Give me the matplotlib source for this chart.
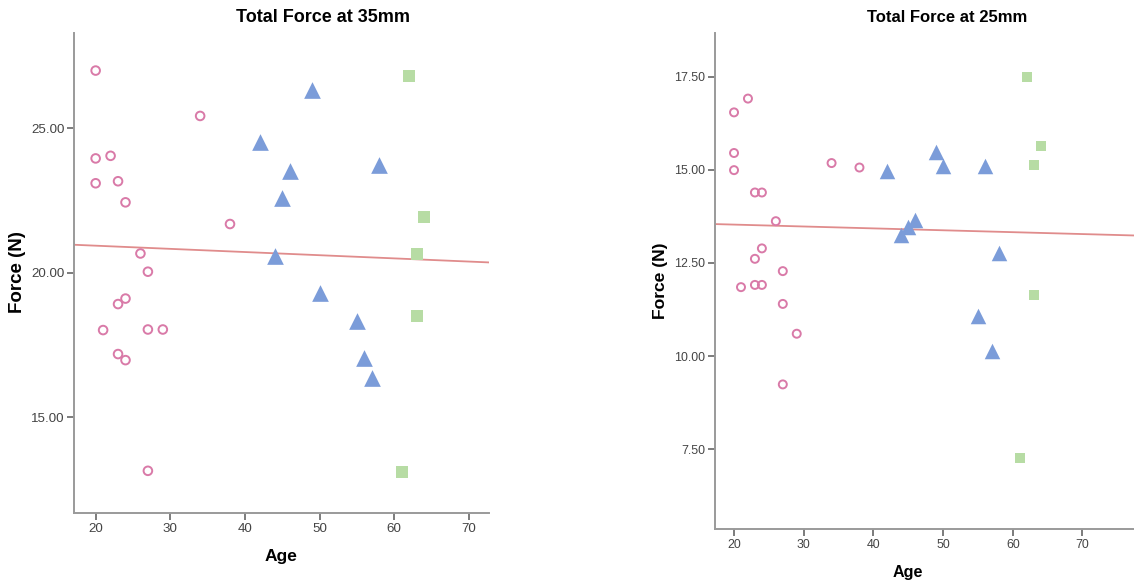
import numpy as np
import matplotlib
matplotlib.use("Agg")
import matplotlib.pyplot as plt

plt.rcParams["font.family"] = ["Liberation Sans", "DejaVu Sans"]

# ages per group (same subjects in both panels)
young_age = [20, 34, 20, 22, 20, 23, 24, 38, 26, 27, 24, 23, 21, 27, 29, 23, 24, 27]
mid_age = [49, 42, 46, 45, 58, 44, 50, 55, 56, 57]
old_age = [62, 64, 63, 63, 61]

# total force at 35mm
young_35 = [27.0, 25.43, 23.96, 24.05, 23.1, 23.17, 22.44, 21.69, 20.67, 20.04,
            19.11, 18.92, 18.02, 18.04, 18.04, 17.19, 16.98, 13.15]
mid_35 = [26.33, 24.54, 23.53, 22.58, 23.73, 20.58, 19.29, 18.34, 17.04, 16.37]
old_35 = [26.81, 21.94, 20.65, 18.51, 13.12]

# total force at 25mm (ages in matching order below)
young_age_25 = [20, 22, 20, 20, 34, 38, 23, 24, 26, 24, 23, 27, 21, 23, 24, 27, 29, 27]
young_25 = [16.54, 16.91, 15.45, 14.99, 15.18, 15.06, 14.39, 14.39, 13.62, 12.89,
            12.61, 12.28, 11.85, 11.91, 11.91, 11.40, 10.60, 9.24]
mid_age_25 = [42, 49, 50, 56, 46, 45, 44, 58, 55, 57]
mid_25 = [14.97, 15.47, 15.09, 15.09, 13.66, 13.47, 13.26, 12.77, 11.07, 10.13]
old_age_25 = [62, 64, 63, 63, 61]
old_25 = [17.5, 15.64, 15.13, 11.63, 7.26]

x_ticks = [20, 30, 40, 50, 60, 70]
y_ticks_35 = [15, 20, 25]
y_ticks_25 = [7.5, 10, 12.5, 15, 17.5]

PINK = "#d97aa8"
BLUE = "#7b9cd9"
GREEN = "#b7dca4"
FIT = "#e08c8c"
SPINE = "#9a9a9a"
TXT = "#444444"

W, H = 1134, 584
fig = plt.figure(figsize=(W / 100, H / 100), dpi=100)


def px_axes(x0, y0, x1, y1):
    return fig.add_axes([x0 / W, 1 - y1 / H, (x1 - x0) / W, (y1 - y0) / H])


def panel(ax, groups, xlim, ylim, yticks, scale):
    ages_all, vals_all = [], []
    for (ages, vals), (mk, ms, fc, ec) in zip(groups, [
            ("o", 6.2, "none", PINK), ("^", 12, BLUE, BLUE), ("s", 8.5, GREEN, GREEN)]):
        ax.scatter(ages, vals, marker=mk, s=(ms * scale) ** 2, facecolors=fc,
                   edgecolors=ec, linewidths=1.4 if fc == "none" else 0, zorder=3)
        ages_all += ages
        vals_all += vals
    slope, icpt = np.polyfit(ages_all, vals_all, 1)
    xs = np.array(xlim)
    ax.plot(xs, icpt + slope * xs, color=FIT, lw=1.3, zorder=2)
    ax.set_xlim(xlim)
    ax.set_ylim(ylim)
    ax.set_xticks(x_ticks)
    ax.set_yticks(yticks)
    ax.set_yticklabels([f"{v:.2f}" for v in yticks])
    for s in ("top", "right"):
        ax.spines[s].set_visible(False)
    for s in ("left", "bottom"):
        ax.spines[s].set_color(SPINE)
        ax.spines[s].set_linewidth(1.4)
    ax.tick_params(length=5, width=1.2, color="#666666", labelcolor=TXT,
                   labelsize=9.6 * scale, pad=2)


ax1 = px_axes(74, 33, 489, 513)
panel(ax1, [(young_age, young_35), (mid_age, mid_35), (old_age, old_35)],
      (17.1, 72.7), (11.69, 28.3), y_ticks_35, 1.0)

ax2 = px_axes(715, 33, 1134, 529)
panel(ax2, [(young_age_25, young_25), (mid_age_25, mid_25), (old_age_25, old_25)],
      (17.27, 77.4), (5.36, 18.67), y_ticks_25, 0.93)

# titles and axis labels
fig.text(323.5 / W, 1 - 17 / H, "Total Force at 35mm", ha="center", va="center",
         fontsize=13, fontweight="bold")
fig.text(947.5 / W, 1 - 17 / H, "Total Force at 25mm", ha="center", va="center",
         fontsize=12, fontweight="bold")
fig.text(281 / W, 1 - 556 / H, "Age", ha="center", va="center",
         fontsize=12.5, fontweight="bold")
fig.text(907.5 / W, 1 - 573 / H, "Age", ha="center", va="center",
         fontsize=11.6, fontweight="bold")
fig.text(18 / W, 1 - 272 / H, "Force (N)", ha="center", va="center", rotation=90,
         fontsize=13.5, fontweight="bold")
fig.text(660 / W, 1 - 281 / H, "Force (N)", ha="center", va="center", rotation=90,
         fontsize=12.6, fontweight="bold")

fig.savefig("out.png", dpi=100)
